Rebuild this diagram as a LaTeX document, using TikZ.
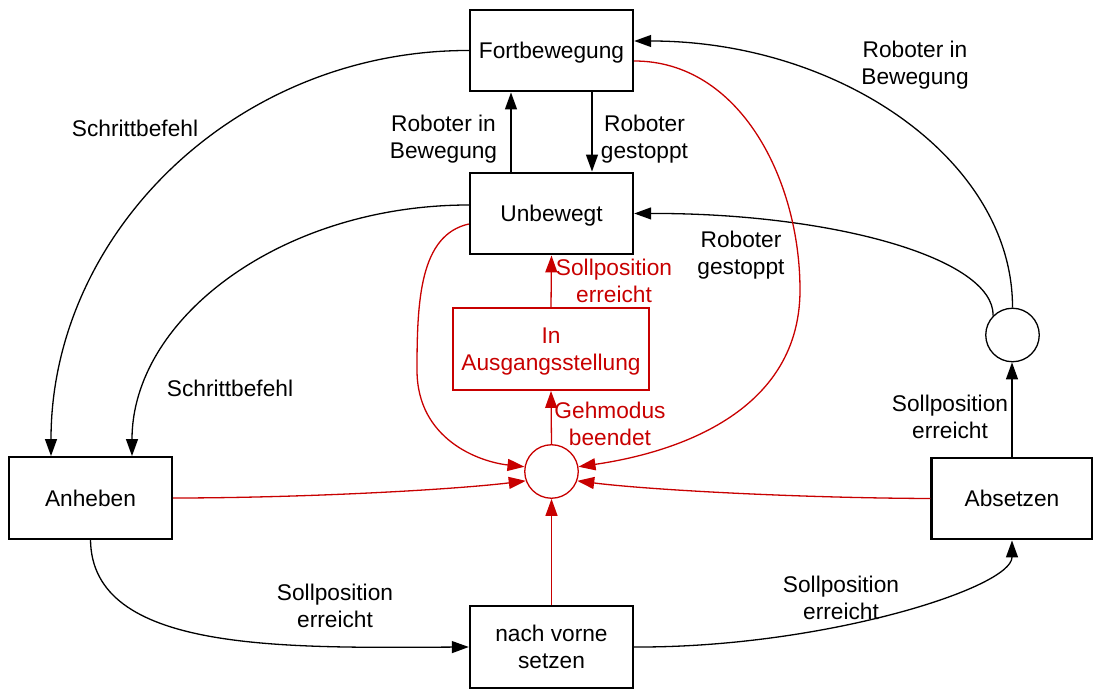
\documentclass[tikz,border=0pt]{standalone}
\usepackage{fontspec}
\setmainfont{Liberation Sans}
\usetikzlibrary{arrows.meta}
\definecolor{sred}{RGB}{200,0,0}
\begin{document}
\begin{tikzpicture}[x=0.5pt,y=-0.5pt,
  every node/.style={font=\fontsize{11.35}{13.5}\selectfont, align=center, text depth=0pt},
  box/.style={draw, line width=1.2pt, inner sep=0pt, minimum width=81.5pt, minimum height=40.75pt},
  junction/.style={draw, circle, line width=0.65pt, inner sep=0pt, minimum size=26.75pt},
  lbl/.style={inner sep=0pt},
  arr/.style={-{Triangle[length=8.5pt,width=6pt]}, line width=0.65pt},
  redarr/.style={arr, draw=sred}
]
\useasboundingbox (0,0) rectangle (1093,689);

% states
\node[box] (F)  at (551.5,50.5)  {Fortbewegung};
\node[box] (U)  at (551.5,213.5) {Unbewegt};
\node[box, draw=sred, text=sred, minimum width=98pt] (A) at (551,349) {In\\Ausgangsstellung};
\node[box] (An) at (90.5,498)    {Anheben};
\node[box, minimum width=80.5pt] (Ab) at (1012,498.5) {Absetzen};
\node[box] (N)  at (551.5,647)   {nach vorne\\setzen};

% junctions
\node[junction, draw=sred] (rc) at (551.5,471.5) {};
\node[junction] (sc) at (1012.5,335) {};

% black transitions
\draw[arr] (F.west) .. controls (236,50) and (51,233) .. ([xshift=-19.75pt]An.north);
\draw[arr] ([yshift=4.25pt]U.west) .. controls (282,205) and (132,318) .. ([xshift=20.75pt]An.north);
\draw[arr] ([xshift=-20.25pt]U.north) -- ([xshift=-20.25pt]F.south);
\draw[arr] ([xshift=20.25pt]F.south) -- ([xshift=20.25pt]U.north);
\draw[arr] (sc.north) .. controls (1013,161) and (841,41) .. ([yshift=4.75pt]F.east);
\draw[arr] (sc.135) .. controls (994,258) and (832,213) .. (U.east);
\draw[arr] (Ab.north) -- (Ab.north |- sc.south);
\draw[arr] (An.south) .. controls (92,652) and (280,648) .. (N.west);
\draw[arr] (N.east) .. controls (822,648) and (1012,588) .. (Ab.south);

% red transitions
\draw[redarr] ([yshift=-5.25pt]F.east) .. controls (740,61) and (800,180) .. (800,290)
   .. controls (800,420) and (660,455) .. (rc.10);
\draw[redarr] ([yshift=-5.25pt]U.west) .. controls (420,235) and (417,300) .. (417,370)
   .. controls (417,440) and (480,462) .. (rc.170);
\draw[redarr] (An.east) .. controls (300,498) and (450,490) .. (rc.200);
\draw[redarr] (Ab.west) .. controls (800,498) and (650,490) .. (rc.-20);
\draw[redarr] (N.north) -- (rc.south);
\draw[redarr] (rc.north) -- (A.south);
\draw[redarr] (A.north) -- (U.south);

% labels
\node[lbl] (l1)  at (135,128) {Schrittbefehl};
\node[lbl] (l2)  at (230,388) {Schrittbefehl};
\node[lbl] (l3)  at (443.5,137) {Roboter in\\Bewegung};
\node[lbl] (l4)  at (644.5,137) {Roboter\\gestoppt};
\node[lbl] (l5)  at (915,63) {Roboter in\\Bewegung};
\node[lbl] (l6)  at (741,253) {Roboter\\gestoppt};
\node[lbl, text=sred] (l7) at (614,281) {Sollposition\\erreicht};
\node[lbl, text=sred] (l8) at (610,424) {Gehmodus\\beendet};
\node[lbl] (l9)  at (950,417) {Sollposition\\erreicht};
\node[lbl] (l10) at (335,606) {Sollposition\\erreicht};
\node[lbl] (l11) at (841,598) {Sollposition\\erreicht};
\end{tikzpicture}
\end{document}
